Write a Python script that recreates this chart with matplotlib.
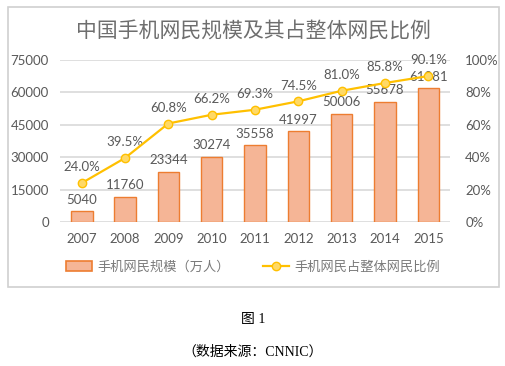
import matplotlib.pyplot as plt
from matplotlib.patches import Rectangle

plt.rcParams['font.family'] = ['Lato', 'Noto Sans CJK SC', 'DejaVu Sans']

# data
years = ['2007', '2008', '2009', '2010', '2011', '2012', '2013', '2014', '2015']
users = [5040, 11760, 23344, 30274, 35558, 41997, 50006, 55678, 61981]
share = [24.0, 39.5, 60.8, 66.2, 69.3, 74.5, 81.0, 85.8, 90.1]
left_ticks = [0, 15000, 30000, 45000, 60000, 75000]
right_ticks = [0, 20, 40, 60, 80, 100]

gray = '#595959'
bar_face = '#F5B596'
bar_edge = '#ED7D31'
line_col = '#FFC000'

fig = plt.figure(figsize=(5.05, 3.66), dpi=100)

# chart frame (behind the axes)
fig.patches.append(Rectangle((8/505, 1-287/366), 491/505, 280/366, transform=fig.transFigure,
                             facecolor='white', edgecolor='#D0D0D0', lw=1.2, zorder=-1))

ax = fig.add_axes([60/505, 1-222/366, 390/505, 162/366])
ax.patch.set_visible(False)
x = list(range(len(years)))

ax.bar(x, users, width=0.5, color=bar_face, edgecolor=bar_edge, lw=1.0, zorder=2)
for xi, v in zip(x, users):
    ax.annotate(str(v), (xi, v), xytext=(0, 4), textcoords='offset points',
                ha='center', va='bottom', fontsize=9.5, color=gray, zorder=5)

ax.set_xlim(-0.5, len(years) - 0.5)
ax.set_ylim(0, 75000)
ax.set_yticks(left_ticks)
ax.set_xticks(x)
ax.set_xticklabels(years)
ax.grid(axis='y', color='#D9D9D9', lw=1.2, zorder=0)
ax.set_axisbelow(True)
for s in ax.spines.values():
    s.set_visible(False)
ax.tick_params(length=0, labelsize=9.5, labelcolor=gray, pad=8)

ax2 = ax.twinx()
ax2.patch.set_visible(False)
ax2.plot(x, share, color=line_col, lw=1.6, marker='o', markersize=6,
         markerfacecolor='#FFD966', markeredgecolor=line_col, zorder=4)
for xi, v in zip(x, share):
    ax2.annotate(f'{v:.1f}%', (xi, v), xytext=(0, 7), textcoords='offset points',
                 ha='center', va='bottom', fontsize=9.5, color=gray)
ax2.set_ylim(0, 100)
ax2.set_yticks(right_ticks)
ax2.set_yticklabels([f'{t}%' for t in right_ticks])
for s in ax2.spines.values():
    s.set_visible(False)
ax2.tick_params(length=0, labelsize=9.5, labelcolor=gray, pad=11)

fig.text(253/505, 1-32/366, '中国手机网民规模及其占整体网民比例', ha='center', va='center',
         fontsize=15, color='#6E6E6E', fontweight='light')

handles = [Rectangle((0, 0), 1, 1, facecolor=bar_face, edgecolor=bar_edge, lw=1.2),
           plt.Line2D([], [], color=line_col, lw=1.6, marker='o', markersize=6,
                      markerfacecolor='#FFD966', markeredgecolor=line_col)]
leg = fig.legend(handles, ['手机网民规模（万人）', '手机网民占整体网民比例'], loc='center',
                 bbox_to_anchor=(253/505, 1-267/366), ncol=2, frameon=False, fontsize=9.5,
                 labelcolor='#7A7A7A', handlelength=2.0, columnspacing=2.5, handletextpad=0.4)
for t in leg.get_texts():
    t.set_fontweight('light')

fig.text(253/505, 1-320/366, '图 1', ha='center', va='center', fontsize=10,
         family=['Liberation Serif', 'Noto Sans CJK SC'], color='black')
fig.text(253/505, 1-352/366, '（数据来源：CNNIC）', ha='center', va='center', fontsize=10,
         family=['Liberation Serif', 'Noto Sans CJK SC'], color='black')

fig.savefig('out.png', dpi=100)
